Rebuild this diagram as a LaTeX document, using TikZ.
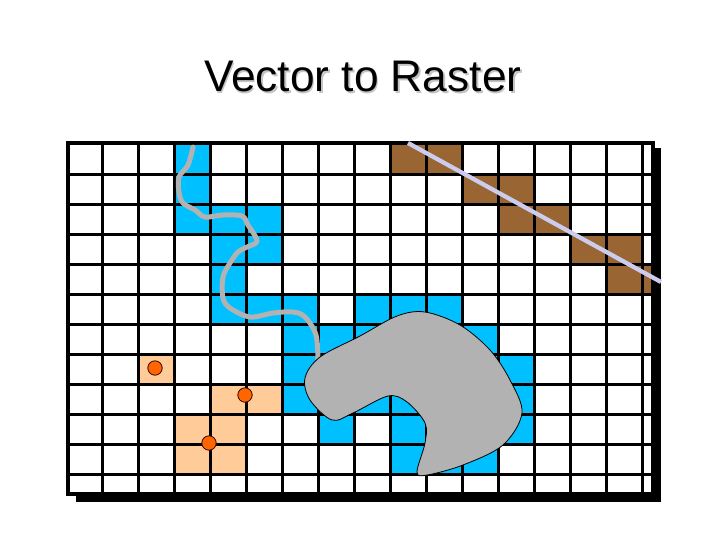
\documentclass[tikz,border=0pt]{standalone}
\usepackage{fontspec}
\setmainfont{Liberation Sans}
\definecolor{cellblue}{HTML}{00C0FF}
\definecolor{cellbrown}{HTML}{996633}
\definecolor{cellpeach}{HTML}{FFCC99}
\definecolor{dotorange}{HTML}{FF6600}
\definecolor{blobgray}{HTML}{B2B2B2}
\definecolor{linelav}{HTML}{CCCCEE}
\definecolor{titleshadow}{HTML}{C4C4C4}
\tikzset{
  px/.style={x=0.75pt,y=-0.75pt},
  gridline/.style={black,line width=2.25pt},
  framebox/.style={draw=black,line width=3pt,line join=miter},
  pt dot/.style={circle,draw=black!80!red,fill=dotorange,line width=0.6pt,minimum size=10.8pt,inner sep=0pt},
  titletext/.style={font=\fontsize{33.2}{36}\selectfont,anchor=base,inner sep=0pt},
}
\newcommand{\cellat}[3]{\fill[#1] ({66.5+36*#2},{144+30*#3}) rectangle ++(36,30);}
\begin{document}
\begin{tikzpicture}[px]
\useasboundingbox (0,0) rectangle (720,540);
\fill[white] (0,0) rectangle (720,540);
% shadow
\fill[black] (76,148) rectangle (661,502);
\fill[white] (68,143) rectangle (652.5,493.7);
% cells
\foreach \c/\r in {3/0,3/1,3/2,4/2,5/2,4/3,5/3,4/4,4/5,5/5,6/5,8/5,9/5,10/5,
  6/6,7/6,8/6,9/6,10/6,11/6,6/7,7/7,8/7,9/7,10/7,11/7,12/7,6/8,7/8,8/8,9/8,10/8,11/8,12/8,
  7/9,9/9,10/9,11/9,12/9,9/10,10/10,11/10}{\cellat{cellblue}{\c}{\r}}
\foreach \c/\r in {9/0,10/0,11/1,12/1,12/2,13/2,14/3,15/3,15/4}{\cellat{cellbrown}{\c}{\r}}
\fill[cellbrown] (642,264) rectangle (651,294);
\foreach \c/\r in {2/7,4/8,5/8,3/9,4/9,3/10,4/10}{\cellat{cellpeach}{\c}{\r}}
% grid
\foreach \k in {1,...,16}{\draw[gridline] ({66.5+36*\k},143) -- ({66.5+36*\k},493);}
\foreach \k in {1,...,11}{\draw[gridline] (68,{144.3+30*\k}) -- (652,{144.3+30*\k});}
\draw[framebox] (68,143) rectangle (652.5,493.7);
% river
\draw[blobgray,line width=3.75pt,line cap=round,line join=round]
  plot[smooth,tension=0.55] coordinates {(193,147) (188,165) (179,177) (179,192) (183,203) (195,210) (205,217) (223,215) (242,216) (248,225) (257,241) (247,247) (238,252) (230,263) (223,277) (223,298) (230,308) (250,317) (273,313) (293,312) (305,317) (316,335) (318,362)};
% blob
\draw[fill=blobgray,draw=black,line width=0.6pt]
  plot[smooth cycle,tension=0.55] coordinates {(425,312) (397,316) (360,336) (320,357) (305,378) (310,400) (332,420) (353,413) (388,396) (407,402) (425,423) (425,443) (417,472) (427,475) (463,465) (503,445) (522,413) (510,380) (490,350) (460,325)};
% road
\coordinate (roadA) at (408,143);
\coordinate (roadB) at (661,282);
\draw[linelav,line width=3.2pt] (roadA) -- (roadB);
% points
\node[pt dot] (p1) at (155,368) {};
\node[pt dot] (p2) at (245,395) {};
\node[pt dot] (p3) at (209,443) {};
% title
\node[titletext,text=titleshadow] (titleshadow) at (364.5,93) {Vector to Raster};
\node[titletext,text=black] (title) at (362.7,91.5) {Vector to Raster};
\end{tikzpicture}
\end{document}
